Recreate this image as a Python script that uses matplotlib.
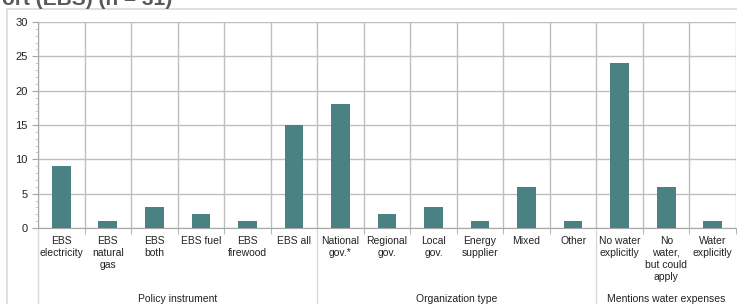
import matplotlib.pyplot as plt
from matplotlib.patches import Rectangle
from matplotlib.ticker import MultipleLocator
import numpy as np

plt.rcParams['font.family'] = ['Liberation Sans', 'DejaVu Sans']

# categories and counts
labels = ['EBS\nelectricity', 'EBS\nnatural\ngas', 'EBS\nboth', 'EBS fuel', 'EBS\nfirewood', 'EBS all',
          'National\ngov.*', 'Regional\ngov.', 'Local\ngov.', 'Energy\nsupplier', 'Mixed', 'Other',
          'No water\nexplicitly', 'No\nwater,\nbut could\napply', 'Water\nexplicitly']
counts = [9, 1, 3, 2, 1, 15, 18, 2, 3, 1, 6, 1, 24, 6, 1]
groups = ['Policy instrument', 'Organization type', 'Mentions water expenses']
group_sizes = [6, 6, 3]

W, H = 737, 304
fig = plt.figure(figsize=(W / 100, H / 100), dpi=100)

# outer chart frame
fig.patches.append(Rectangle((7 / W, -0.1), 1.2, 1 - 9 / H + 0.1, transform=fig.transFigure,
                             fill=False, edgecolor='#d9d9d9', linewidth=1.2))

# cropped title
fig.text(172 / W, 1 - 5 / H, 'ort (EBS) (n = 31)', ha='right', va='baseline',
         fontsize=15, fontweight='bold', color='#595959')

ax = fig.add_axes([38 / W, (H - 228) / H, (736 - 38) / W, (228 - 22) / H])
x = np.arange(len(counts))
ax.bar(x, counts, width=0.4, color='#4a8284', zorder=3)

ax.set_xlim(-0.5, len(counts) - 0.5)
ax.set_ylim(0, 30)
ax.yaxis.set_major_locator(MultipleLocator(5))
ax.yaxis.set_minor_locator(MultipleLocator(1))
ax.set_xticks(x)
ax.set_xticklabels(labels, fontsize=7.5, color='#222222', linespacing=1.25)
ax.set_xticks(np.arange(-0.5, len(counts)), minor=True)
ax.tick_params(axis='x', which='major', length=0, pad=6)
ax.tick_params(axis='x', which='minor', length=4, color='#a6a6a6')
ax.tick_params(axis='y', which='major', length=4, color='#a6a6a6', labelsize=8, labelcolor='#222222')
ax.tick_params(axis='y', which='minor', length=2, color='#c8c8c8')
ax.grid(axis='y', which='major', color='#bfbfbf', linewidth=1)
ax.grid(axis='x', which='minor', color='#bfbfbf', linewidth=1)
for s in ['top', 'right']:
    ax.spines[s].set_visible(False)
ax.spines['left'].set_color('#a6a6a6')
ax.spines['bottom'].set_color('#a6a6a6')

# group labels and separators below the axis
trans = ax.get_xaxis_transform()
start = -0.5
bottom_y = -(H - 228) / (228 - 22)
for name, n in zip(groups, group_sizes):
    ax.text(start + n / 2, -(302 - 228) / (228 - 22), name, transform=trans,
            ha='center', va='baseline', fontsize=7.5, color='#222222')
    ax.plot([start, start], [0, bottom_y], transform=trans, color='#d9d9d9',
            linewidth=1, clip_on=False)
    start += n

fig.savefig('out.png', dpi=100)
